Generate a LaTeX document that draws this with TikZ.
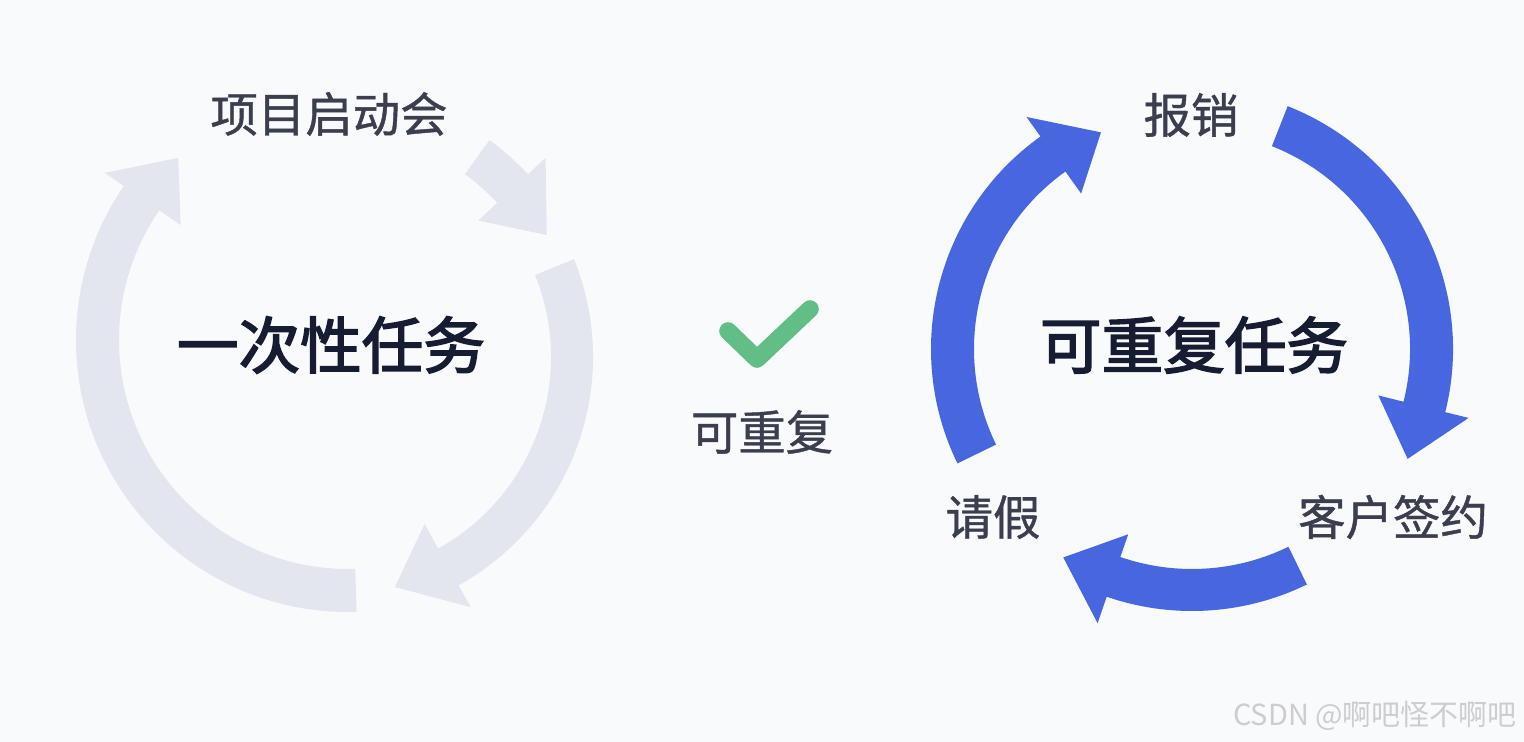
\documentclass[tikz,border=0pt]{standalone}
\usepackage{fontspec}
\newfontfamily\cjk{Noto Sans CJK SC}
\newfontfamily\cjkmid{Noto Sans CJK SC}[FakeBold=0.9]
\newfontfamily\cjkheavy{Noto Sans CJK SC}[FakeBold=2.6]
\definecolor{bgpaper}{RGB}{249,250,251}
\definecolor{cycleblue}{RGB}{72,102,224}
\definecolor{oncegray}{RGB}{227,230,239}
\definecolor{titleink}{RGB}{22,28,50}
\definecolor{labelink}{RGB}{58,62,78}
\definecolor{checkgreen}{RGB}{98,190,135}
\definecolor{markgray}{RGB}{205,205,209}
\tikzset{
  tasktitle/.style={font=\cjkheavy\fontsize{30.8}{36}\selectfont, text=titleink, inner sep=0pt},
  steplabel/.style={font=\cjkmid\fontsize{23.7}{28}\selectfont, text=labelink, inner sep=0pt},
  bluearrow/.style={fill=cycleblue},
  grayarrow/.style={fill=oncegray},
}
\begin{document}
\begin{tikzpicture}[x=0.5pt,y=0.5pt,yscale=-1]
\fill[bgpaper] (0,0) rectangle (1524,742);
\useasboundingbox (0,0) rectangle (1524,742);
% one-off task
\begin{scope}[shift={(348,340)}]
\fill[grayarrow] (88.2:272) arc[start angle=88.2, end angle=214.5, radius=272] -- (214.5:295) -- (227:249) -- (214.5:203) -- (214.5:229) arc[start angle=214.5, end angle=88.2, radius=229] -- cycle;
\end{scope}
\begin{scope}[shift={(332,357)}]
\fill[grayarrow] (-54:268) arc[start angle=-54, end angle=-43, radius=268] -- (-43:292) -- (-29.6:247) -- (-43:200) -- (-43:226) arc[start angle=-43, end angle=-54, radius=226] -- cycle;
\fill[grayarrow] (-22:261) arc[start angle=-22, end angle=61, radius=261] -- (61:286) -- (74.7:238.5) -- (61:191) -- (61:219) arc[start angle=61, end angle=-22, radius=219] -- cycle;
\end{scope}
% repeatable task
\begin{scope}[shift={(1192,349)}]
\fill[bluearrow] (-68.5:261) arc[start angle=-68.5, end angle=14, radius=261] -- (14:285) -- (27:242) -- (14:192) -- (14:218) arc[start angle=14, end angle=-68.5, radius=218] -- cycle;
\fill[bluearrow] (64:262) arc[start angle=64, end angle=109, radius=262] -- (109:290) -- (121.7:245) -- (109:196) -- (109:220) arc[start angle=109, end angle=64, radius=220] -- cycle;
\fill[bluearrow] (154:261) arc[start angle=154, end angle=234.5, radius=261] -- (234.5:285) -- (247.2:235) -- (234.5:191) -- (234.5:218) arc[start angle=234.5, end angle=154, radius=218] -- cycle;
\end{scope}
\draw[checkgreen, line width=8.8pt, line cap=round, line join=round] (728,331) -- (757,359) -- (810,309);
\node[tasktitle] (onceTitle) at (331,345) {一次性任务};
\node[tasktitle] (repeatTitle) at (1194,345) {可重复任务};
\node[steplabel] (kickoff) at (329,114) {项目启动会};
\node[steplabel] (expense) at (1191,115) {报销};
\node[steplabel] (leave) at (993,517) {请假};
\node[steplabel] (contract) at (1393,517) {客户签约};
\node[steplabel] (repeatable) at (762,432) {可重复};
\node[font=\cjk\fontsize{14.5}{17}\selectfont, text=markgray, inner sep=0pt] (watermark) at (1375,716) {CSDN @啊吧怪不啊吧};
\end{tikzpicture}
\end{document}
